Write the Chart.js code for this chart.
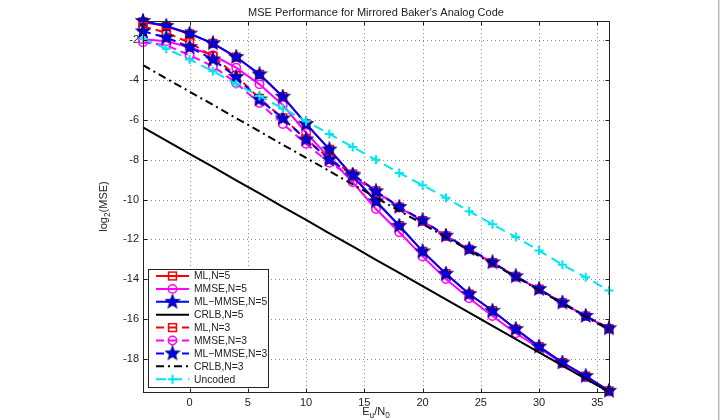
<!DOCTYPE html>
<html>
<head>
<meta charset="utf-8">
<script src="https://cdn.jsdelivr.net/npm/chart.js@4"></script>
<style>
  html, body { margin: 0; padding: 0; background: #fff; }
  #wrap { width: 722px; height: 420px; }
</style>
</head>
<body>
<div id="wrap"><canvas id="mse-chart" width="722" height="420"></canvas></div>
<script>
const snr = [-4, -2, 0, 2, 4, 6, 8, 10, 12, 14, 16, 18, 20, 22, 24, 26, 28, 30, 32, 34, 36];

const mlN5 = [-1.08, -1.3, -1.68, -2.15, -2.84, -3.71, -4.83, -6.2, -7.48, -8.82, -10.08, -11.31, -12.6, -13.72, -14.74, -15.58, -16.5, -17.38, -18.18, -18.86, -19.6];
const mmseN5 = [-1.95, -2.05, -2.35, -2.75, -3.37, -4.21, -5.25, -6.64, -7.9, -9.13, -10.47, -11.64, -12.85, -13.99, -14.95, -15.84, -16.71, -17.45, -18.22, -18.92, -19.64];
const mlmmseN5 = [-1.03, -1.28, -1.66, -2.15, -2.84, -3.71, -4.83, -6.2, -7.48, -8.82, -10.08, -11.31, -12.6, -13.72, -14.74, -15.58, -16.5, -17.38, -18.18, -18.86, -19.6];
const crlbN5 = [-6.37, -7.04, -7.7, -8.36, -9.03, -9.69, -10.36, -11.02, -11.69, -12.35, -13.02, -13.68, -14.34, -15.01, -15.67, -16.34, -17.0, -17.67, -18.33, -19.0, -19.66];
const mlN3 = [-1.3, -1.62, -2.12, -2.8, -3.78, -4.92, -5.9, -6.95, -7.95, -8.72, -9.56, -10.38, -11.06, -11.82, -12.5, -13.16, -13.86, -14.5, -15.18, -15.85, -16.48];
const mmseN3 = [-2.1, -2.25, -2.75, -3.3, -4.15, -5.15, -6.2, -7.2, -8.15, -8.86, -9.6, -10.4, -11.08, -11.84, -12.5, -13.17, -13.87, -14.51, -15.18, -15.85, -16.49];
const mlmmseN3 = [-1.55, -1.86, -2.34, -2.96, -3.84, -4.97, -5.92, -6.98, -7.99, -8.74, -9.58, -10.37, -11.04, -11.81, -12.48, -13.15, -13.85, -14.49, -15.17, -15.84, -16.46];
const crlbN3 = [-3.25, -3.92, -4.58, -5.24, -5.91, -6.57, -7.24, -7.9, -8.57, -9.23, -9.9, -10.56, -11.22, -11.89, -12.55, -13.22, -13.88, -14.55, -15.21, -15.88, -16.54];
const uncoded = [-1.92, -2.42, -2.96, -3.55, -4.2, -4.8, -5.42, -6.06, -6.7, -7.36, -8.0, -8.66, -9.28, -9.9, -10.58, -11.24, -11.88, -12.56, -13.27, -13.9, -14.56];

const seriesLabels = ["ML,N=5", "MMSE,N=5", "ML\u2212MMSE,N=5", "CRLB,N=5", "ML,N=3", "MMSE,N=3", "ML\u2212MMSE,N=3", "CRLB,N=3", "Uncoded"];
const xTicks = [0, 5, 10, 15, 20, 25, 30, 35];
const yTicks = [-18, -16, -14, -12, -10, -8, -6, -4, -2];
const titleText = "MSE Performance for Mirrored Baker's Analog Code";

const FONT = "Liberation Sans, Arial, sans-serif";
const DASH = [8, 5];

// filled pentagram used as marker for the ML-MMSE curves
function makeStar(r) {
  const c = document.createElement("canvas");
  const s = Math.ceil(r * 2 + 2);
  c.width = s;
  c.height = s;
  const g = c.getContext("2d");
  g.beginPath();
  for (let i = 0; i < 10; i++) {
    const rad = i % 2 === 0 ? r : r * 0.42;
    const a = -Math.PI / 2 + (i * Math.PI) / 5;
    const px = s / 2 + rad * Math.cos(a);
    const py = s / 2 + rad * Math.sin(a);
    if (i === 0) g.moveTo(px, py);
    else g.lineTo(px, py);
  }
  g.closePath();
  g.fillStyle = "#0000f0";
  g.fill();
  g.strokeStyle = "#000090";
  g.lineWidth = 1.2;
  g.stroke();
  return c;
}
const star = makeStar(7);

const styles = [
  { data: mlN5, color: "#ff0000", dash: [], marker: "rect" },
  { data: mmseN5, color: "#ff00ff", dash: [], marker: "circle" },
  { data: mlmmseN5, color: "#0000ff", dash: [], marker: "star" },
  { data: crlbN5, color: "#000000", dash: [], marker: null },
  { data: mlN3, color: "#ff0000", dash: DASH, marker: "rect" },
  { data: mmseN3, color: "#ff00ff", dash: DASH, marker: "circle" },
  { data: mlmmseN3, color: "#0000ff", dash: DASH, marker: "star" },
  { data: crlbN3, color: "#000000", dash: [8, 4, 2, 4], marker: null },
  { data: uncoded, color: "#00e6f0", dash: [10, 6], marker: "cross" },
];

function pointOpts(marker) {
  switch (marker) {
    case "rect":
      return { pointStyle: "rect", pointRadius: 5.5, pointBorderWidth: 1.5 };
    case "circle":
      return { pointStyle: "circle", pointRadius: 4.2, pointBorderWidth: 1.5 };
    case "star":
      return { pointStyle: star, pointRadius: 7, pointBorderWidth: 0 };
    case "cross":
      return { pointStyle: "cross", pointRadius: 4.5, pointBorderWidth: 2 };
    default:
      return { pointRadius: 0 };
  }
}

const datasets = styles.map((s, i) => ({
  label: seriesLabels[i],
  data: snr.map((x, k) => ({ x: x, y: s.data[k] })),
  borderColor: s.color,
  borderWidth: 2,
  borderDash: s.dash,
  backgroundColor: "rgba(0,0,0,0)",
  pointBackgroundColor: "rgba(0,0,0,0)",
  pointBorderColor: s.color,
  tension: 0,
  fill: false,
  clip: false,
  order: styles.length - i,
  ...pointOpts(s.marker),
}));

function drawMarker(ctx, marker, color, x, y) {
  ctx.save();
  ctx.setLineDash([]);
  ctx.strokeStyle = color;
  if (marker === "rect") {
    ctx.lineWidth = 1.5;
    ctx.strokeRect(x - 3.9, y - 3.9, 7.8, 7.8);
  } else if (marker === "circle") {
    ctx.lineWidth = 1.5;
    ctx.beginPath();
    ctx.arc(x, y, 4.2, 0, Math.PI * 2);
    ctx.stroke();
  } else if (marker === "star") {
    ctx.drawImage(star, x - star.width / 2, y - star.height / 2);
  } else if (marker === "cross") {
    ctx.lineWidth = 2;
    ctx.beginPath();
    ctx.moveTo(x - 4.5, y);
    ctx.lineTo(x + 4.5, y);
    ctx.moveTo(x, y - 4.5);
    ctx.lineTo(x, y + 4.5);
    ctx.stroke();
  }
  ctx.restore();
}

// text with subscripts, parts = [[text, isSub], ...], centred on 0
function drawSubText(ctx, parts, size) {
  let w = 0;
  parts.forEach(([t, sub]) => {
    ctx.font = (sub ? size * 0.75 : size) + "px " + FONT;
    w += ctx.measureText(t).width;
  });
  let cx = -w / 2;
  parts.forEach(([t, sub]) => {
    ctx.font = (sub ? size * 0.75 : size) + "px " + FONT;
    ctx.fillText(t, cx, sub ? 3 : 0);
    cx += ctx.measureText(t).width;
  });
}

const matlabAxes = {
  id: "matlabAxes",
  beforeDatasetsDraw(chart) {
    const { ctx, chartArea: a, scales } = chart;
    ctx.save();
    ctx.strokeStyle = "rgba(0,0,0,0.45)";
    ctx.lineWidth = 1;
    ctx.setLineDash([1, 3]);
    xTicks.forEach((v) => {
      const px = Math.round(scales.x.getPixelForValue(v)) + 0.5;
      ctx.beginPath();
      ctx.moveTo(px, a.top);
      ctx.lineTo(px, a.bottom);
      ctx.stroke();
    });
    yTicks.forEach((v) => {
      const py = Math.round(scales.y.getPixelForValue(v)) + 0.5;
      ctx.beginPath();
      ctx.moveTo(a.left, py);
      ctx.lineTo(a.right, py);
      ctx.stroke();
    });
    ctx.restore();
  },
  afterDatasetsDraw(chart) {
    const { ctx, chartArea: a, scales } = chart;
    const l = Math.round(a.left) + 0.5;
    const r = Math.round(a.right) + 0.5;
    const t = Math.round(a.top) + 0.5;
    const b = Math.round(a.bottom) + 0.5;
    const tl = 4;
    ctx.save();
    ctx.strokeStyle = "#222";
    ctx.lineWidth = 1;
    ctx.setLineDash([]);
    ctx.beginPath();
    xTicks.forEach((v) => {
      const px = Math.round(scales.x.getPixelForValue(v)) + 0.5;
      ctx.moveTo(px, b);
      ctx.lineTo(px, b - tl);
      ctx.moveTo(px, t);
      ctx.lineTo(px, t + tl);
    });
    yTicks.forEach((v) => {
      const py = Math.round(scales.y.getPixelForValue(v)) + 0.5;
      ctx.moveTo(l, py);
      ctx.lineTo(l + tl, py);
      ctx.moveTo(r, py);
      ctx.lineTo(r - tl, py);
    });
    ctx.stroke();
    ctx.strokeRect(l, t, r - l, b - t);
    ctx.restore();
  },
  afterDraw(chart) {
    const { ctx, chartArea: a } = chart;
    const cx = (a.left + a.right) / 2;
    ctx.save();
    ctx.fillStyle = "#222";
    ctx.textBaseline = "alphabetic";

    // title
    ctx.font = "11px " + FONT;
    ctx.textAlign = "center";
    ctx.fillText(titleText, cx, 16);
    ctx.textAlign = "left";

    // x axis label
    ctx.save();
    ctx.translate(cx, 415);
    drawSubText(ctx, [["E", false], ["u", true], ["/N", false], ["0", true]], 11);
    ctx.restore();

    // y axis label
    ctx.save();
    ctx.translate(107, (a.top + a.bottom) / 2);
    ctx.rotate(-Math.PI / 2);
    drawSubText(ctx, [["log", false], ["2", true], ["(MSE)", false]], 11);
    ctx.restore();

    // legend
    const bx = 148.5, by = 269.5, bw = 120, bh = 118;
    ctx.fillStyle = "#fff";
    ctx.fillRect(bx, by, bw, bh);
    ctx.strokeStyle = "#222";
    ctx.lineWidth = 1;
    ctx.strokeRect(bx, by, bw, bh);
    ctx.font = "10.3px " + FONT;
    ctx.textBaseline = "middle";
    styles.forEach((s, i) => {
      const ly = 276 + i * 12.9;
      ctx.save();
      ctx.strokeStyle = s.color;
      ctx.lineWidth = 2;
      ctx.setLineDash(s.dash);
      ctx.beginPath();
      ctx.moveTo(156, ly);
      ctx.lineTo(189, ly);
      ctx.stroke();
      ctx.restore();
      if (s.marker) drawMarker(ctx, s.marker, s.color, 172.5, ly);
      ctx.fillStyle = "#222";
      ctx.fillText(seriesLabels[i], 194, ly + 0.5);
    });

    // figure edge on the right
    ctx.fillStyle = "#b8b8b8";
    ctx.fillRect(718, 0, 1, 420);
    ctx.fillStyle = "#dcdcdc";
    ctx.fillRect(719, 0, 1, 420);
    ctx.restore();
  },
};

const ctx = document.getElementById("mse-chart").getContext("2d");

const chart = new Chart(ctx, {
  type: "line",
  data: { datasets: datasets },
  options: {
    responsive: false,
    animation: false,
    layout: { padding: { top: 21, right: 113, bottom: 0, left: 0 } },
    plugins: {
      legend: { display: false },
      title: { display: false },
      tooltip: { enabled: false },
    },
    scales: {
      x: {
        type: "linear",
        min: -4,
        max: 36,
        grid: { display: false, drawTicks: false },
        border: { display: false },
        afterBuildTicks: (s) => {
          s.ticks = xTicks.map((v) => ({ value: v }));
        },
        afterFit: (s) => {
          s.height = 28;
        },
        ticks: {
          padding: 4,
          maxRotation: 0,
          autoSkip: false,
          color: "#222",
          font: { family: FONT, size: 11 },
          callback: (v) => String(v),
        },
      },
      y: {
        type: "linear",
        min: -19.66,
        max: -1.03,
        grid: { display: false, drawTicks: false },
        border: { display: false },
        afterBuildTicks: (s) => {
          s.ticks = yTicks.map((v) => ({ value: v }));
        },
        afterFit: (s) => {
          s.width = 143;
        },
        ticks: {
          padding: 4,
          autoSkip: false,
          color: "#222",
          font: { family: FONT, size: 11 },
          callback: (v) => String(v),
        },
      },
    },
  },
  plugins: [matlabAxes],
});
</script>
</body>
</html>
